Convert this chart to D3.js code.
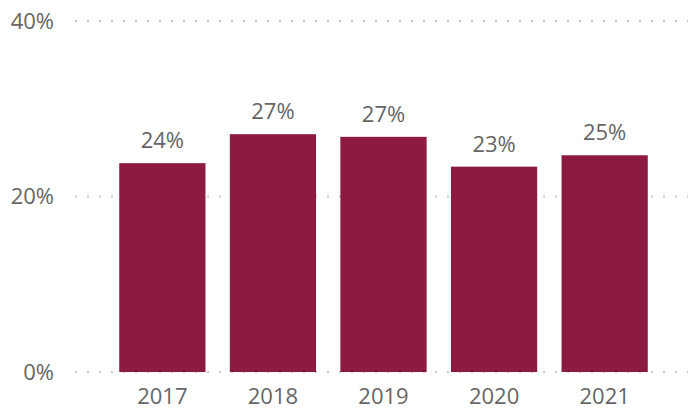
<!DOCTYPE html>
<html lang="en">
<head>
    <meta charset="utf-8">
    <title>Yearly share</title>
    <script src="https://cdn.jsdelivr.net/npm/d3@7"></script>
    <style>
        html, body { margin: 0; padding: 0; background: #fff; }
    </style>
</head>
<body>
<script type="text/javascript">
    var years = ["2017", "2018", "2019", "2020", "2021"];
    var shares = [23.8, 27.1, 26.8, 23.4, 24.7];
    var yTicks = [0, 20, 40];

    var width = 688;
    var height = 410;
    var textColor = "#666666";
    var barColor = "#8c1a41";
    var fontFamily = "'Open Sans', sans-serif";

    var svg = d3.select("body")
            .append("svg")
            .attr("width", width)
            .attr("height", height);

    var x = d3.scaleBand()
            .domain(years)
            .range([75, 692])
            .paddingInner(0.22)
            .paddingOuter(0.4);

    var y = d3.scaleLinear()
            .domain([0, 40])
            .range([372, 21]);

    // dotted gridlines
    svg.append("g")
            .selectAll("line")
            .data(yTicks)
            .enter()
            .append("line")
            .attr("x1", 75)
            .attr("x2", width)
            .attr("y1", function(d) { return y(d); })
            .attr("y2", function(d) { return y(d); })
            .attr("stroke", "#c8c8c8")
            .attr("stroke-width", 2)
            .attr("stroke-dasharray", "2,10");

    // y tick labels
    svg.append("g")
            .selectAll("text")
            .data(yTicks)
            .enter()
            .append("text")
            .text(function(d) { return d + "%"; })
            .attr("x", 54)
            .attr("y", function(d) { return y(d); })
            .attr("dy", "0.35em")
            .attr("text-anchor", "end")
            .attr("font-family", fontFamily)
            .attr("font-size", "22px")
            .attr("fill", textColor);

    // bars
    svg.append("g")
            .selectAll("rect")
            .data(shares)
            .enter()
            .append("rect")
            .attr("x", function(d, i) { return x(years[i]); })
            .attr("y", function(d) { return y(d); })
            .attr("width", x.bandwidth())
            .attr("height", function(d) { return y(0) - y(d); })
            .attr("fill", barColor);

    // value labels
    svg.append("g")
            .selectAll("text")
            .data(shares)
            .enter()
            .append("text")
            .text(function(d) { return Math.round(d) + "%"; })
            .attr("x", function(d, i) { return x(years[i]) + x.bandwidth() / 2; })
            .attr("y", function(d) { return y(d) - 15; })
            .attr("text-anchor", "middle")
            .attr("font-family", fontFamily)
            .attr("font-size", "22px")
            .attr("fill", textColor);

    // x axis labels
    svg.append("g")
            .selectAll("text")
            .data(years)
            .enter()
            .append("text")
            .text(function(d) { return d; })
            .attr("x", function(d) { return x(d) + x.bandwidth() / 2; })
            .attr("y", 404)
            .attr("text-anchor", "middle")
            .attr("font-family", fontFamily)
            .attr("font-size", "22px")
            .attr("fill", textColor);
</script>
</body>
</html>
